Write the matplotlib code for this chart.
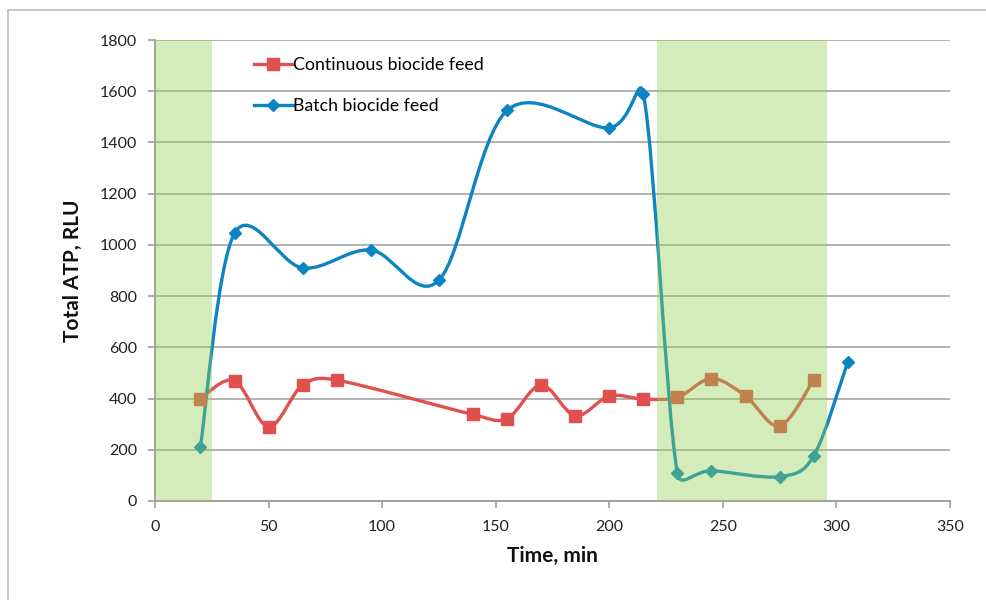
import numpy as np
import matplotlib
matplotlib.use("Agg")
import matplotlib.pyplot as plt
from matplotlib.path import Path
from matplotlib.patches import PathPatch, Rectangle
from matplotlib.lines import Line2D

plt.rcParams['font.family'] = ['Lato', 'DejaVu Sans']

# data
cont_x = [20, 35, 50, 65, 80, 140, 155, 170, 185, 200, 215, 230, 245, 260, 275, 290]
cont_y = [400, 470, 290, 453, 472, 338, 322, 453, 333, 410, 398, 405, 478, 410, 293, 473]
batch_x = [20, 35, 65, 95, 125, 155, 200, 215, 230, 245, 275, 290, 305]
batch_y = [212, 1045, 910, 980, 862, 1525, 1457, 1590, 108, 118, 95, 176, 543]
bands = [(0, 25), (221, 296)]

red = '#E0504E'
blue = '#0B84C4'
green = '#92D050'


def arm(t, seg):
    # tangent/6, but never longer than half the segment it points along
    v = t / 6.0
    L = np.hypot(*v)
    if L > seg / 2.0 and L > 0:
        v = v * (seg / 2.0) / L
    return v


def smooth_path(ax, xs, ys):
    # Excel-like smoothed line, control points worked out in screen space
    tr = ax.transData
    p = tr.transform(np.column_stack([xs, ys]).astype(float))
    n = len(p)
    verts = [p[0]]
    codes = [Path.MOVETO]
    for i in range(n - 1):
        a = p[i]
        b = p[i + 1]
        d = np.hypot(*(b - a))
        t1 = b - p[i - 1] if i > 0 else (b - a)
        t2 = p[i + 2] - a if i + 2 < n else (b - a)
        c1 = a + arm(t1, d)
        c2 = b - arm(t2, d)
        verts += [c1, c2, b]
        codes += [Path.CURVE4] * 3
    verts = tr.inverted().transform(np.array(verts))
    return Path(verts, codes)


fig = plt.figure(figsize=(9.87, 6.0), dpi=100)
ax = fig.add_axes([155 / 987, 1 - 501 / 600, 795 / 987, 461 / 600])
ax.set_xlim(0, 350)
ax.set_ylim(0, 1800)

# outer chart frame
fig.patches.append(Rectangle((8 / 987, -0.05), 1.1, 1 - 10 / 600 + 0.05,
                             transform=fig.transFigure, fill=False,
                             edgecolor='#BBBBBB', linewidth=1.2))

ax.add_patch(PathPatch(smooth_path(ax, cont_x, cont_y), fill=False, edgecolor=red,
                       linewidth=2.4, zorder=3))
ax.plot(cont_x, cont_y, linestyle='none', marker='s', markersize=8.5,
        color=red, zorder=4)
ax.add_patch(PathPatch(smooth_path(ax, batch_x, batch_y), fill=False, edgecolor=blue,
                       linewidth=2.4, zorder=3))
ax.plot(batch_x, batch_y, linestyle='none', marker='D', markersize=6.5,
        color=blue, zorder=4)

for a, b in bands:
    ax.axvspan(a, b, color=green, alpha=0.4, linewidth=0, zorder=5)

ax.set_xticks(np.arange(0, 351, 50))
ax.set_yticks(np.arange(0, 1801, 200))
ax.yaxis.grid(True, color='#A6A6A6', linewidth=1.2)
ax.set_axisbelow(True)
for s in ['top', 'right']:
    ax.spines[s].set_visible(False)
for s in ['left', 'bottom']:
    ax.spines[s].set_color('#A0A0A0')
    ax.spines[s].set_linewidth(1.4)
ax.tick_params(axis='both', colors='#A0A0A0', labelcolor='#222222',
               labelsize=11.5, length=5, width=1.2, direction='out')
ax.tick_params(axis='x', pad=9)
ax.tick_params(axis='y', pad=8)

ax.set_xlabel('Time, min', fontsize=15, fontweight='bold', color='#111111', labelpad=8)
ax.set_ylabel('Total ATP, RLU', fontsize=15, fontweight='bold', color='#111111', labelpad=12)

handles = [Line2D([], [], color=red, linewidth=2.4, marker='s', markersize=8.5),
           Line2D([], [], color=blue, linewidth=2.4, marker='D', markersize=6.5)]
ax.legend(handles, ['Continuous biocide feed', 'Batch biocide feed'],
          loc='upper left', bbox_to_anchor=(0.104, 0.997), frameon=False,
          fontsize=12.8, handlelength=2.2, handletextpad=0.0, labelspacing=1.4)

fig.savefig('out.png', dpi=100)
